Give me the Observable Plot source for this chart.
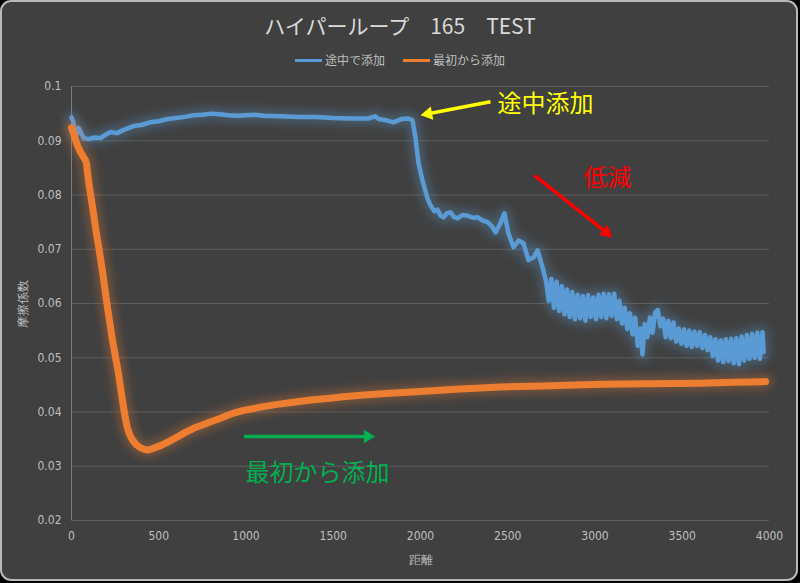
<!DOCTYPE html>
<html><head><meta charset="utf-8">
<script src="https://cdn.jsdelivr.net/npm/d3@7"></script>
<script src="https://cdn.jsdelivr.net/npm/@observablehq/plot@0.6"></script>
<style>
html,body{margin:0;padding:0;background:#000;width:800px;height:583px;overflow:hidden;}
#card{position:absolute;left:0;top:0;width:798px;height:581px;box-sizing:border-box;border:2px solid #b8b8b8;border-radius:11px;background:#404040;}
#title{position:absolute;left:0;top:14px;width:800px;text-align:center;font-size:21px;line-height:22px;font-family:"Noto Sans CJK JP",sans-serif;color:#d9d9d9;white-space:pre;}
#legend{position:absolute;top:52px;left:0;width:800px;display:flex;justify-content:center;gap:18px;font-size:12px;line-height:16px;font-family:"Noto Sans CJK JP",sans-serif;color:#bfbfbf;}
#legend .item{display:flex;align-items:center;gap:3px;}
#legend .sw{display:inline-block;width:27px;height:3px;}
#chart{position:absolute;left:0;top:70px;}
</style>
</head><body>
<div id="card"></div>
<div id="title"></div>
<div id="legend"></div>
<div id="chart"></div>
<script>
// ---- data ----
const chartTitle = "ハイパーループ　165　TEST";
const seriesNames = ["途中で添加", "最初から添加"];
const seriesColors = ["#5b9bd5", "#ed7d31"];
const xTitle = "距離";
const yTitle = "摩擦係数";
const xTicks = [0, 500, 1000, 1500, 2000, 2500, 3000, 3500, 4000];
const yTicks = [0.02, 0.03, 0.04, 0.05, 0.06, 0.07, 0.08, 0.09, 0.1];
const yTickLabels = ["0.02", "0.03", "0.04", "0.05", "0.06", "0.07", "0.08", "0.09", "0.1"];

// 途中で添加 (blue)
const blueDist = [0,10,20,30,40,50,69,100,130,166,200,224,260,300,355,400,450,500,550,600,650,700,750,800,850,900,950,1000,1050,1100,1200,1300,1400,1500,1600,1700,1740,1760,1800,1845,1890,1930,1954,1971,1989,2011,2040,2057,2080,2097,2115,2132,2150,2172,2190,2212,2240,2269,2300,2327,2355,2384,2410,2430,2458,2481,2504,2533,2562,2590,2619,2648,2671,2699,2720,2735,
2750,2765,2780,2795,2810,2825,2840,2855,2870,2885,2900,2915,2930,2945,2960,2975,2990,3005,3020,3035,3050,3065,3080,3095,3110,3125,3140,3155,3170,3185,3200,3215,3230,3245,3260,3272,3285,3300,3315,3330,3345,3360,3375,3390,3405,3420,3435,3450,3465,3480,3495,3510,3525,3540,3555,3570,3585,3600,3615,3630,3645,3660,3675,3690,3705,3720,3735,3750,3765,3780,3795,3810,3825,3840,3855,3870,3885,3900,3915,3930,3945,3960,3966];
const blueMu = [0.0943,0.0935,0.0918,0.0912,0.0924,0.0918,0.0905,0.0903,0.0906,0.0905,0.0912,0.0916,0.0914,0.0920,0.0927,0.0929,0.0934,0.0936,0.0940,0.0942,0.0944,0.0947,0.0948,0.0950,0.0949,0.0947,0.0946,0.0947,0.0948,0.0946,0.0945,0.0944,0.0944,0.0942,0.0941,0.0941,0.0945,0.0940,0.0938,0.0934,0.0940,0.0941,0.0938,0.0906,0.0858,0.0827,0.0794,0.0781,0.0770,0.0773,0.0762,0.0759,0.0766,0.0768,0.0760,0.0757,0.0763,0.0762,0.0758,0.0759,0.0753,0.0750,0.0742,0.0731,0.0748,0.0766,0.0729,0.0704,0.0716,0.0711,0.0680,0.0685,0.0698,0.0667,0.0640,0.0605,
0.0645,0.0592,0.0640,0.0586,0.0632,0.0580,0.0626,0.0575,0.0621,0.0571,0.0616,0.0573,0.0614,0.0568,0.0615,0.0575,0.0611,0.0571,0.0616,0.0575,0.0618,0.0573,0.0617,0.0577,0.0618,0.0571,0.0605,0.0563,0.0592,0.0553,0.0582,0.0543,0.0574,0.0522,0.0554,0.0506,0.0562,0.0538,0.0574,0.0546,0.0584,0.0588,0.0558,0.0572,0.0538,0.0568,0.0536,0.0565,0.0530,0.0554,0.0526,0.0552,0.0522,0.0550,0.0520,0.0548,0.0522,0.0547,0.0518,0.0542,0.0514,0.0538,0.0503,0.0534,0.0495,0.0532,0.0492,0.0534,0.0494,0.0535,0.0490,0.0536,0.0488,0.0539,0.0495,0.0542,0.0498,0.0544,0.0500,0.0546,0.0498,0.0547,0.0510];

// 最初から添加 (orange)
const orangeDist = [0,20,34,50,63,80,86,97,110,126,140,155,178,206,235,269,298,310,321,335,350,370,395,420,441,470,510,560,607,650,699,750,797,850,894,940,986,1040,1083,1180,1272,1370,1467,1560,1656,1800,2000,2200,2458,2700,3031,3300,3605,3800,3977];
const orangeMu = [0.0924,0.0905,0.0891,0.0880,0.0873,0.0864,0.0858,0.0827,0.0800,0.0766,0.0735,0.0706,0.0658,0.0593,0.0532,0.0471,0.0409,0.0386,0.0370,0.0357,0.0348,0.0340,0.0334,0.0331,0.0330,0.0333,0.0338,0.0346,0.0354,0.0362,0.0370,0.0376,0.0382,0.0388,0.0394,0.0399,0.0403,0.0406,0.0409,0.0414,0.0418,0.0422,0.0425,0.0428,0.0431,0.0434,0.0438,0.0442,0.0446,0.0448,0.0451,0.0452,0.0453,0.0455,0.0456];

// annotations (data coordinates; text anchored at its left edge)
const noteText = ["途中添加", "低減", "最初から添加"];
const noteX = [2441, 2934, 997];
const noteY = [0.0967, 0.0831, 0.0287];
const noteColor = ["#ffff00", "#ff0000", "#00b050"];
const arrowX1 = [2401, 2653, 989];
const arrowY1 = [0.0972, 0.0836, 0.0355];
const arrowX2 = [2000, 3100, 1742];
const arrowY2 = [0.0947, 0.0722, 0.0355];

// ---- header ----
document.getElementById("title").textContent = chartTitle;
const legend = document.getElementById("legend");
seriesNames.forEach((n, i) => {
  const it = document.createElement("span"); it.className = "item";
  const sw = document.createElement("span"); sw.className = "sw"; sw.style.background = seriesColors[i];
  const tx = document.createElement("span"); tx.textContent = n;
  it.append(sw, tx); legend.append(it);
});

// ---- chart ----
const W = 800, H = 513, ML = 71, MR = 31, MT = 16, MB = 63;
const blue = blueDist.map((d, i) => ({x: d, y: blueMu[i]}));
const orange = orangeDist.map((d, i) => ({x: d, y: orangeMu[i]}));
const notes = noteText.map((t, i) => ({t, x: noteX[i], y: noteY[i], c: noteColor[i]}));

const xs = d3.scaleLinear([0, 4000], [ML, W - MR]);
const ys = d3.scaleLinear([0.02, 0.1], [H - MB, MT]);
const tipBack = 7.8;
const arrows = arrowX1.map((_, i) => {
  const px1 = xs(arrowX1[i]), py1 = ys(arrowY1[i]), px2 = xs(arrowX2[i]), py2 = ys(arrowY2[i]);
  const a = Math.atan2(py2 - py1, px2 - px1);
  const cx = px2 - tipBack * Math.cos(a), cy = py2 - tipBack * Math.sin(a);
  return {x1: arrowX1[i], y1: arrowY1[i], xc: xs.invert(cx), yc: ys.invert(cy), rot: a * 180 / Math.PI + 90, c: noteColor[i]};
});

const tickFont = '"Liberation Sans Narrow","DejaVu Sans Condensed","Noto Sans",sans-serif';
const chart = Plot.plot({
  width: W, height: H,
  marginLeft: ML, marginRight: MR, marginTop: MT, marginBottom: MB,
  style: {background: "transparent", color: "#bfbfbf", fontSize: "12px", fontFamily: tickFont, overflow: "visible"},
  x: {domain: [0, 4000]},
  y: {domain: [0.02, 0.1]},
  marks: [
    Plot.gridY(yTicks, {stroke: "#5c5c5c", strokeOpacity: 1}),
    Plot.ruleX([0], {stroke: "#7d7d7d", strokeOpacity: 1}),
    Plot.axisX(xTicks, {tickSize: 0, tickPadding: 11, tickFormat: d => String(d), label: xTitle, labelAnchor: "center", labelOffset: 43, labelArrow: "none"}),
    Plot.axisY(yTicks, {tickSize: 0, tickPadding: 10, tickFormat: d => yTickLabels[yTicks.indexOf(d)], label: yTitle, labelAnchor: "center", labelOffset: 53, labelArrow: "none"}),
    Plot.line(blue, {x: "x", y: "y", stroke: seriesColors[0], strokeWidth: 13, strokeOpacity: 0.3, strokeLinejoin: "round", imageFilter: "blur(4px)"}),
    Plot.line(blue, {x: "x", y: "y", stroke: seriesColors[0], strokeWidth: 4.5, strokeLinejoin: "round"}),
    Plot.line(orange, {x: "x", y: "y", stroke: seriesColors[1], strokeWidth: 15, strokeOpacity: 0.3, strokeLinejoin: "round", imageFilter: "blur(4px)"}),
    Plot.line(orange, {x: "x", y: "y", stroke: seriesColors[1], strokeWidth: 7, strokeLinejoin: "round"}),
    Plot.link(arrows, {x1: "x1", y1: "y1", x2: "xc", y2: "yc", stroke: "c", strokeWidth: 3.5}),
    Plot.dot(arrows, {x: "xc", y: "yc", symbol: "triangle", r: 5, fill: "c", stroke: "none", rotate: "rot"}),
    Plot.text(notes, {x: "x", y: "y", text: "t", fill: "c", fontSize: 24, textAnchor: "start", fontFamily: '"Noto Sans CJK JP",sans-serif'})
  ]
});
document.getElementById("chart").append(chart);
</script>
</body></html>
